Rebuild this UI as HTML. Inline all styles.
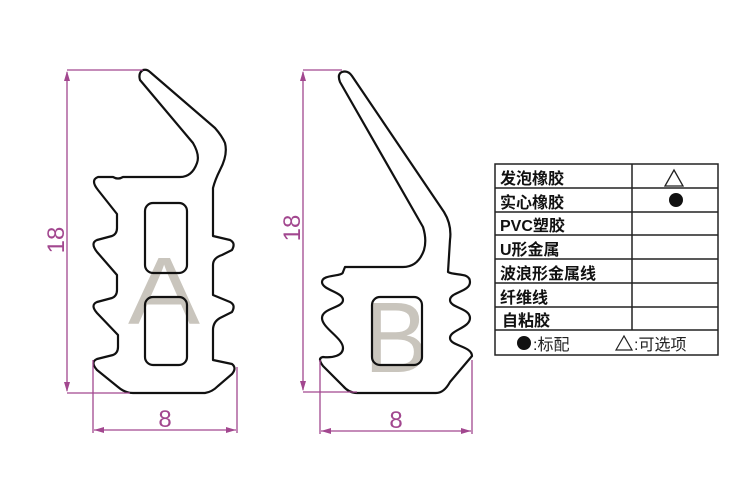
<!DOCTYPE html>
<html><head><meta charset="utf-8"><style>
body{margin:0;background:#fff;width:750px;height:500px;overflow:hidden}
svg{display:block}
</style></head><body>
<svg width="750" height="500" viewBox="0 0 750 500" xmlns="http://www.w3.org/2000/svg">
<g font-family="Liberation Sans, sans-serif" fill="#c9c5bd" font-size="96">
<text x="128" y="324" textLength="72" lengthAdjust="spacingAndGlyphs">A</text>
<text x="364" y="372" font-size="100" textLength="64" lengthAdjust="spacingAndGlyphs">B</text>
</g>
<g fill="none" stroke="#111" stroke-width="2.2" stroke-linejoin="round">
<path d="M143,70 Q138,73 140,80 L193,143 Q200,155 197,163 Q192,177 180,177 L123,177 Q118,180 113,177 L98,177 Q90,180 98,190 L117,214 L117,228 Q117,234 112,236 L97,240 Q90,243 97,252 L117,275 L117,290 Q117,296 112,298 L97,302 Q90,305 97,313 L118,335 L118,347 Q118,353 113,355 L97,359 Q90,362 97,370 L118,387 Q125,393 133,393 L205,393 Q212,392 218,386 L232,374 Q237,368 232,364 L213,360 L213,330 Q213,322 220,318 L232,312 Q236,305 230,302 L213,295 L213,265 Q213,258 222,255 L232,250 Q236,243 230,240 L213,236 L213,188 Q215,180 220,170 Q228,155 225,143 Q222,136 215,128 L150,72 Q147,69 143,70 Z"/>
<rect x="145" y="203" width="42" height="70" rx="8"/>
<rect x="145" y="297" width="42" height="68" rx="8"/>
<path d="M342,72 Q348,70 352,76 L444,212 Q452,225 450,240 L448,272 C455,276 470,272 470,282 C470,292 450,292 450,300 C450,308 470,308 470,318 C470,328 450,330 450,338 C450,346 472,346 472,356 L450,382 Q444,393 436,393 L357,393 Q349,393 343,386 L323,366 Q317,358 323,357 C332,358 343,356 343,348 C343,338 322,328 322,318 C322,308 343,308 343,300 C343,292 322,290 322,282 C322,274 343,277 343,272 L345,267 L403,267 Q418,267 424,250 Q427,240 423,227 L340,82 Q337,74 342,72 Z"/>
<rect x="372" y="297" width="50" height="68" rx="8"/>
</g>
<g stroke="#a2478f" stroke-width="1.3" fill="#a2478f">
<line x1="67" y1="70" x2="143" y2="70"/><line x1="67" y1="393" x2="130" y2="393"/>
<line x1="67" y1="72" x2="67" y2="391"/>
<path d="M67,71 l-3,10 h6z M67,392 l-3,-10 h6z" stroke="none"/>
<line x1="93" y1="360" x2="93" y2="433"/><line x1="237" y1="367" x2="237" y2="433"/>
<line x1="94" y1="430" x2="236" y2="430"/>
<path d="M94,430 l10,-3 v6z M236,430 l-10,-3 v6z" stroke="none"/>
<line x1="303" y1="70" x2="342" y2="70"/><line x1="303" y1="392" x2="357" y2="392"/>
<line x1="303" y1="72" x2="303" y2="390"/>
<path d="M303,71 l-3,10 h6z M303,391 l-3,-10 h6z" stroke="none"/>
<line x1="320" y1="360" x2="320" y2="434"/><line x1="472" y1="360" x2="472" y2="434"/>
<line x1="321" y1="431" x2="471" y2="431"/>
<path d="M321,431 l10,-3 v6z M471,431 l-10,-3 v6z" stroke="none"/>
</g>
<g fill="#a2478f" font-family="Liberation Sans, sans-serif" font-size="24">
<text transform="translate(64,240) rotate(-90)" text-anchor="middle">18</text>
<text transform="translate(300,228) rotate(-90)" text-anchor="middle">18</text>
<text x="165" y="427" text-anchor="middle">8</text>
<text x="396" y="428" text-anchor="middle">8</text>
</g>
<g stroke="#222" stroke-width="1.5" fill="none">
<rect x="495" y="164" width="223" height="191"/>
<path d="M495,188H718M495,212H718M495,235H718M495,259H718M495,283H718M495,307H718M495,330H718M632,164V330"/>
</g>
<g font-family="Liberation Sans, 'Noto Sans CJK SC', sans-serif" font-size="16" font-weight="bold" fill="#111">
<text x="500" y="184">发泡橡胶</text>
<text x="500" y="208">实心橡胶</text>
<text x="500" y="231">PVC塑胶</text>
<text x="500" y="255">U形金属</text>
<text x="500" y="279">波浪形金属线</text>
<text x="500" y="303">纤维线</text>
<text x="502" y="326">自粘胶</text>
</g>
<path d="M665,186 l9,-16 l9,16z" fill="none" stroke="#222" stroke-width="1.3"/>
<circle cx="676" cy="200" r="7" fill="#111"/>
<g font-family="Liberation Sans, 'Noto Sans CJK SC', sans-serif" font-size="16" fill="#222">
<circle cx="524" cy="343" r="7" fill="#111"/>
<text x="533" y="350">:标配</text>
<path d="M616,350 l8,-14 l8,14z" fill="none" stroke="#222" stroke-width="1.2"/>
<text x="634" y="350">:可选项</text>
</g>
</svg>
</body></html>
